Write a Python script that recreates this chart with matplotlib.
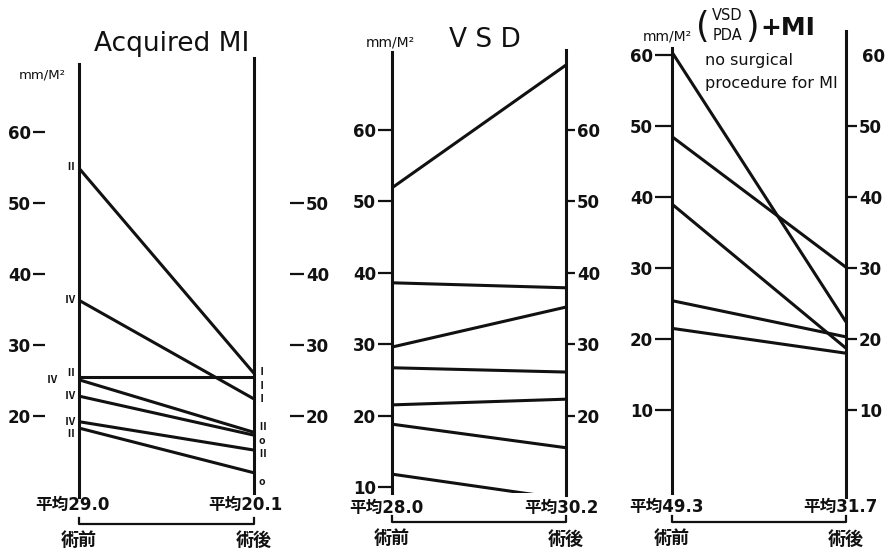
import matplotlib
matplotlib.use("Agg")
import matplotlib.pyplot as plt
import matplotlib.transforms as mtransforms
from matplotlib import font_manager as fm

# ---------------- data ----------------
phase_labels = ["術前", "術後"]

acq_pre = [54.9, 36.3, 25.5, 25.1, 22.8, 19.2, 18.3]
acq_post = [26.0, 22.4, 25.5, 17.7, 17.3, 15.2, 12.0]
acq_left_class = ["Ⅱ", "Ⅳ", "Ⅱ", "Ⅳ", "Ⅳ", "Ⅳ", "Ⅱ"]
acq_right_class = ["Ⅰ", "Ⅰ", "Ⅰ", "Ⅱ", "o", "Ⅱ", "o"]
acq_means = [29.0, 20.1]
acq_left_ticks = [20, 30, 40, 50, 60]
acq_right_ticks = [20, 30, 40, 50]

vsd_pre = [51.9, 38.6, 29.6, 26.7, 21.5, 18.8, 11.8]
vsd_post = [69.1, 37.9, 35.2, 26.1, 22.3, 15.5, 8.3]
vsd_means = [28.0, 30.2]
vsd_left_ticks = [10, 20, 30, 40, 50, 60]
vsd_right_ticks = [20, 30, 40, 50, 60]

mix_pre = [60.4, 48.5, 39.0, 25.4, 21.5]
mix_post = [22.4, 30.1, 18.7, 20.3, 18.0]
mix_means = [49.3, 31.7]
mix_left_ticks = [10, 20, 30, 40, 50, 60]
mix_right_ticks = [10, 20, 30, 40, 50]
mix_right_plain_ticks = [60]

# ---------------- style / layout ----------------
W, H = 889, 554
INK = "#111111"
LW = 2.2
PX = 100 / 72.0  # pixels per point


def has_font(name):
    try:
        fm.findfont(fm.FontProperties(family=name), fallback_to_default=False)
        return True
    except Exception:
        return False


if has_font("Liberation Sans Narrow"):
    NUM_FAM = ["Liberation Sans Narrow", "Noto Sans CJK JP"]
    NUM_SIZE = 14
else:
    NUM_FAM = ["DejaVu Sans", "Noto Sans CJK JP"]
    NUM_SIZE = 12
CJK = ["Noto Sans CJK JP", "DejaVu Sans"]

fig = plt.figure(figsize=(W / 100, H / 100), dpi=100)
fig.patch.set_facecolor("white")


def fx(px):
    return px / W


def fy(py):
    return 1 - py / H


def make_panel(xl, xr, y60, ppu, top, bot, lspine, rspine, pre, post):
    ax = fig.add_axes([fx(xl), fy(bot), (xr - xl) / W, (bot - top) / H])
    v = lambda py: 60 - (py - y60) / ppu
    ax.set_xlim(0, 1)
    ax.set_ylim(v(bot), v(top))
    ax.patch.set_alpha(0)
    for a, b in zip(pre, post):
        ax.plot([0, 1], [a, b], color=INK, lw=LW, solid_capstyle="butt")
    for s in ["top", "bottom"]:
        ax.spines[s].set_visible(False)
    ax.spines["left"].set_bounds(v(lspine[1]), v(lspine[0]))
    ax.spines["right"].set_bounds(v(rspine[1]), v(rspine[0]))
    for s in ["left", "right"]:
        ax.spines[s].set_linewidth(LW)
        ax.spines[s].set_color(INK)
    ax.set_xticks([])
    ax.set_yticks([])
    return ax


def scale(ax, loc, ticks, length_px, pad):
    sec = ax.secondary_yaxis(loc)
    sec.set_yticks(ticks, labels=[str(t) for t in ticks], fontfamily=NUM_FAM,
                   fontweight="bold", fontsize=NUM_SIZE, color=INK)
    sec.tick_params(length=length_px / PX, width=1.6, pad=pad, color=INK,
                    direction="out")
    for s in sec.spines.values():
        s.set_visible(False)
    return sec


def bottom_labels(ax, means, xlabel_dx, bracket_y=522, mean_y=507, phase_y=539):
    tr = mtransforms.blended_transform_factory(ax.transData, fig.transFigure)
    for xi, m, dx in zip([0, 1], means, xlabel_dx):
        ax.annotate(f"平均{m:.1f}", xy=(xi, fy(mean_y)), xycoords=tr,
                    xytext=(dx, 0), textcoords="offset pixels",
                    ha="center", va="center", fontfamily=NUM_FAM,
                    fontweight="bold", fontsize=NUM_SIZE, color=INK)
    for xi, lab in zip([0, 1], phase_labels):
        ax.annotate(lab, xy=(xi, fy(phase_y)), xycoords=tr,
                    ha="center", va="center", fontfamily=CJK,
                    fontweight="bold", fontsize=13, color=INK)
    ax.plot([0, 0, 1, 1], [fy(bracket_y - 6), fy(bracket_y), fy(bracket_y),
                           fy(bracket_y - 6)], transform=tr, color=INK,
            lw=1.6, clip_on=False)


# ---------------- panel 1 : Acquired MI ----------------
ax1 = make_panel(79, 254, 132, 7.1, 30, 497, (64, 497), (58, 493), acq_pre, acq_post)
scale(ax1, (45 - 79) / 175, acq_left_ticks, 12, 1.5)
scale(ax1, (290 - 79) / 175, acq_right_ticks, 14, 1.5)

left_off = [(-9, 1), (-9, 0), (-9, 4), (-27, 0), (-9, 0), (-9, 0), (-9, -6)]
right_off = [(8, 1), (8, 0), (8, -9), (8, 5), (8, -6), (8, -4), (8, -9)]
for a, b, ll, rl, lo, ro in zip(acq_pre, acq_post, acq_left_class, acq_right_class,
                                left_off, right_off):
    ax1.annotate(ll, xy=(0, a), xytext=lo, textcoords="offset pixels",
                 ha="center", va="center", fontfamily=CJK, fontsize=7.5,
                 fontweight="bold", color=INK, annotation_clip=False)
    ax1.annotate(rl, xy=(1, b), xytext=ro, textcoords="offset pixels",
                 ha="center", va="center", fontfamily=CJK, fontsize=7.5,
                 fontweight="bold", color=INK, annotation_clip=False)

bottom_labels(ax1, acq_means, (-7, -9), bracket_y=524, mean_y=505, phase_y=540)
fig.text(fx(172), fy(44), "Acquired MI", ha="center", va="center",
         fontsize=19, color=INK, family="DejaVu Sans")
fig.text(fx(42), fy(75), "mm/M²", ha="center", va="center", fontsize=9.5,
         color=INK, family="DejaVu Sans")

# ---------------- panel 2 : VSD ----------------
ax2 = make_panel(392, 566, 130, 7.14, 30, 493, (52, 493), (50, 495), vsd_pre, vsd_post)
scale(ax2, "left", vsd_left_ticks, 14, 1.5)
scale(ax2, "right", vsd_right_ticks, 9, 1.5)
bottom_labels(ax2, vsd_means, (-6, -5), mean_y=508)
fig.text(fx(485), fy(40), "V S D", ha="center", va="center",
         fontsize=19, color=INK, family="DejaVu Sans")
fig.text(fx(390), fy(42), "mm/M²", ha="center", va="center", fontsize=10,
         color=INK, family="DejaVu Sans")

# ---------------- panel 3 : (VSD/PDA)+MI ----------------
ax3 = make_panel(672, 846, 55, 7.1, 30, 497, (48, 493), (31, 497), mix_pre, mix_post)
scale(ax3, "left", mix_left_ticks, 17, 1.5)
scale(ax3, "right", mix_right_ticks, 11, 1.5)
scale(ax3, "right", mix_right_plain_ticks, 0, 11.5)
bottom_labels(ax3, mix_means, (-6, -6), mean_y=507)
fig.text(fx(667), fy(37), "mm/M²", ha="center", va="center", fontsize=10,
         color=INK, family="DejaVu Sans")
fig.text(fx(703), fy(27), "(", ha="center", va="center", fontsize=25,
         color=INK, family="DejaVu Sans")
fig.text(fx(752), fy(27), ")", ha="center", va="center", fontsize=25,
         color=INK, family="DejaVu Sans")
fig.text(fx(727), fy(16), "VSD", ha="center", va="center", fontsize=10.5,
         color=INK, family="DejaVu Sans")
fig.text(fx(727), fy(35), "PDA", ha="center", va="center", fontsize=10.5,
         color=INK, family="DejaVu Sans")
fig.text(fx(760), fy(28), "+MI", ha="left", va="center", fontsize=18,
         color=INK, family="DejaVu Sans", fontweight="bold")
fig.text(fx(705), fy(60), "no surgical", ha="left", va="center", fontsize=11.5,
         color=INK, family="DejaVu Sans")
fig.text(fx(705), fy(84), "procedure for MI", ha="left", va="center",
         fontsize=11.5, color=INK, family="DejaVu Sans")

fig.savefig("out.png", dpi=100, facecolor="white")
